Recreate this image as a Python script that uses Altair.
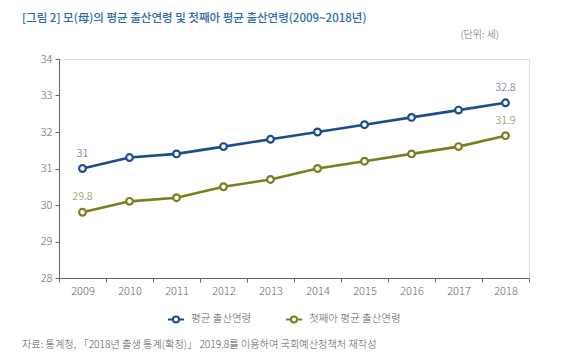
import altair as alt
import pandas as pd

years = [str(y) for y in range(2009, 2019)]
avg_age = [31.0, 31.3, 31.4, 31.6, 31.8, 32.0, 32.2, 32.4, 32.6, 32.8]
first_age = [29.8, 30.1, 30.2, 30.5, 30.7, 31.0, 31.2, 31.4, 31.6, 31.9]
series_names = ["평균 출산연령", "첫째아 평균 출산연령"]
series_colors = ["#1b4d8e", "#7a7e1e"]
label_colors = ["#4a6894", "#8a8a4a"]
y_ticks = [28, 29, 30, 31, 32, 33, 34]
title_text = "[그림 2] 모(母)의 평균 출산연령 및 첫째아 평균 출산연령(2009~2018년)"
unit_text = "(단위: 세)"
source_text = "자료: 통계청, 「2018년 출생 통계(확정)」 2019.8를 이용하여 국회예산정책처 재작성"

FONT = "Noto Sans CJK KR"


def fmt(v):
    return str(int(v)) if float(v).is_integer() else str(v)


rows = []
for name, vals in zip(series_names, [avg_age, first_age]):
    for i, (yr, v) in enumerate(zip(years, vals)):
        rows.append({
            "year": yr,
            "value": v,
            "series": name,
            "label": fmt(v) if i in (0, len(years) - 1) else "",
        })
df = pd.DataFrame(rows)

x_enc = alt.X(
    "year:O",
    scale=alt.Scale(type="band", paddingInner=0, paddingOuter=0),
    axis=alt.Axis(
        title=None, labelAngle=0, tickBand="extent", tickSize=4,
        labelPadding=3, domainColor="#666", tickColor="#666",
        labelColor="#666", labelFontSize=11, labelFont=FONT,
        labelFontWeight=300, grid=False,
    ),
)
y_enc = alt.Y(
    "value:Q",
    scale=alt.Scale(domain=[28, 34], nice=False, zero=False),
    axis=alt.Axis(
        title=None, values=y_ticks, tickSize=4, labelPadding=3,
        domainColor="#666", tickColor="#666", labelColor="#666",
        labelFontSize=11, labelFont=FONT, labelFontWeight=300, grid=False,
    ),
)

color_scale = alt.Scale(domain=series_names, range=series_colors)

legend_symbol = "M-1,0H-0.38M0.38,0H1M-0.38,0A0.38,0.38,0,1,0,0.38,0A0.38,0.38,0,1,0,-0.38,0"

base = alt.Chart(df)

lines = base.mark_line(strokeWidth=2.6).encode(
    x=x_enc,
    y=y_enc,
    color=alt.Color(
        "series:N",
        scale=color_scale,
        sort=series_names,
        legend=alt.Legend(
            title=None, orient="none", legendX=108, legendY=251,
            direction="horizontal", symbolType=legend_symbol,
            symbolSize=256, symbolStrokeWidth=2, symbolFillColor="white",
            labelFont=FONT, labelFontSize=10.5, labelColor="#555",
            labelFontWeight=300, columnPadding=30, labelOffset=6,
        ),
    ),
)

points = base.mark_point(filled=True, fill="white", size=45, strokeWidth=2.2, opacity=1).encode(
    x=x_enc,
    y=y_enc,
    stroke=alt.Stroke("series:N", scale=color_scale, legend=None),
)

labels = base.mark_text(dy=-15, fontSize=11, font=FONT, fontWeight=300).encode(
    x=x_enc,
    y=y_enc,
    text="label:N",
    color=alt.Color("series:N", scale=alt.Scale(domain=series_names, range=label_colors), legend=None),
)

title = alt.Chart(pd.DataFrame({"t": [title_text]})).mark_text(
    align="left", baseline="middle", fontSize=11.5, fontWeight=500, font=FONT, color="#2c6aae"
).encode(x=alt.value(-37), y=alt.value(-40), text="t:N")

unit = alt.Chart(pd.DataFrame({"t": [unit_text]})).mark_text(
    align="right", baseline="middle", fontSize=10, font=FONT, fontWeight=300, color="#666"
).encode(x=alt.value(440), y=alt.value(-24), text="t:N")

source = alt.Chart(pd.DataFrame({"t": [source_text]})).mark_text(
    align="left", baseline="middle", fontSize=10.2, font=FONT, fontWeight=300, color="#555"
).encode(x=alt.value(-37), y=alt.value(286), text="t:N")

chart = alt.layer(lines, points, labels, title, unit, source).resolve_scale(
    color="independent"
).properties(
    width=470,
    height=219,
    autosize=alt.AutoSizeParams(type="none"),
    padding={"left": 51, "top": 51, "right": 28, "bottom": 75},
).configure_view(stroke=None).configure(background="white")

chart.save("out.html", embed_options={"renderer": "svg", "actions": False})
